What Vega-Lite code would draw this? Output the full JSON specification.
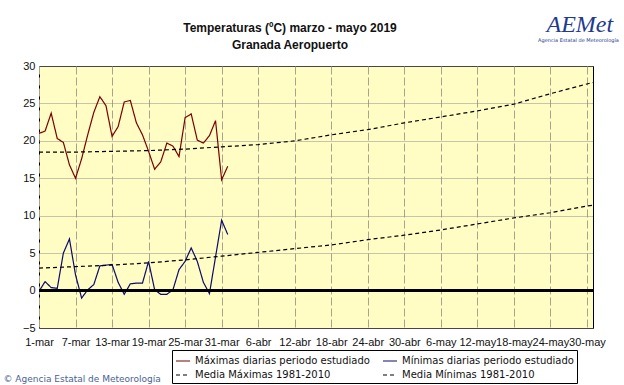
{
  "$schema": "https://vega.github.io/schema/vega-lite/v6.json",
  "width": 554,
  "height": 262,
  "autosize": "none",
  "padding": {"left": 39, "top": 66, "right": 31, "bottom": 57},
  "background": "white",
  "title": {
    "text": ["Temperaturas (ºC) marzo - mayo 2019", "Granada Aeropuerto"],
    "font": "Liberation Sans",
    "fontSize": 12,
    "fontWeight": "bold",
    "color": "#111111",
    "anchor": "middle",
    "lineHeight": 17,
    "offset": 0,
    "dx": -26,
    "dy": 40
  },
  "config": {
    "view": {"fill": "#FFFDC4", "stroke": "black", "strokeWidth": 1},
    "axis": {"labelFont": "Liberation Sans", "labelColor": "#111111", "domain": false, "ticks": false}
  },
  "data": {
    "values": [
      {"fecha": "2019-03-01", "serie": "Máximas diarias periodo estudiado", "valor": 21.0},
      {"fecha": "2019-03-02", "serie": "Máximas diarias periodo estudiado", "valor": 21.3},
      {"fecha": "2019-03-03", "serie": "Máximas diarias periodo estudiado", "valor": 23.7},
      {"fecha": "2019-03-04", "serie": "Máximas diarias periodo estudiado", "valor": 20.3},
      {"fecha": "2019-03-05", "serie": "Máximas diarias periodo estudiado", "valor": 19.8},
      {"fecha": "2019-03-06", "serie": "Máximas diarias periodo estudiado", "valor": 16.8},
      {"fecha": "2019-03-07", "serie": "Máximas diarias periodo estudiado", "valor": 15.0},
      {"fecha": "2019-03-08", "serie": "Máximas diarias periodo estudiado", "valor": 17.6},
      {"fecha": "2019-03-09", "serie": "Máximas diarias periodo estudiado", "valor": 20.8},
      {"fecha": "2019-03-10", "serie": "Máximas diarias periodo estudiado", "valor": 23.8},
      {"fecha": "2019-03-11", "serie": "Máximas diarias periodo estudiado", "valor": 25.9},
      {"fecha": "2019-03-12", "serie": "Máximas diarias periodo estudiado", "valor": 24.7},
      {"fecha": "2019-03-13", "serie": "Máximas diarias periodo estudiado", "valor": 20.6},
      {"fecha": "2019-03-14", "serie": "Máximas diarias periodo estudiado", "valor": 21.9},
      {"fecha": "2019-03-15", "serie": "Máximas diarias periodo estudiado", "valor": 25.2},
      {"fecha": "2019-03-16", "serie": "Máximas diarias periodo estudiado", "valor": 25.4},
      {"fecha": "2019-03-17", "serie": "Máximas diarias periodo estudiado", "valor": 22.4},
      {"fecha": "2019-03-18", "serie": "Máximas diarias periodo estudiado", "valor": 20.8},
      {"fecha": "2019-03-19", "serie": "Máximas diarias periodo estudiado", "valor": 18.6},
      {"fecha": "2019-03-20", "serie": "Máximas diarias periodo estudiado", "valor": 16.2},
      {"fecha": "2019-03-21", "serie": "Máximas diarias periodo estudiado", "valor": 17.2},
      {"fecha": "2019-03-22", "serie": "Máximas diarias periodo estudiado", "valor": 19.7},
      {"fecha": "2019-03-23", "serie": "Máximas diarias periodo estudiado", "valor": 19.3},
      {"fecha": "2019-03-24", "serie": "Máximas diarias periodo estudiado", "valor": 17.9},
      {"fecha": "2019-03-25", "serie": "Máximas diarias periodo estudiado", "valor": 23.1},
      {"fecha": "2019-03-26", "serie": "Máximas diarias periodo estudiado", "valor": 23.6},
      {"fecha": "2019-03-27", "serie": "Máximas diarias periodo estudiado", "valor": 20.1},
      {"fecha": "2019-03-28", "serie": "Máximas diarias periodo estudiado", "valor": 19.7},
      {"fecha": "2019-03-29", "serie": "Máximas diarias periodo estudiado", "valor": 20.7},
      {"fecha": "2019-03-30", "serie": "Máximas diarias periodo estudiado", "valor": 22.7},
      {"fecha": "2019-03-31", "serie": "Máximas diarias periodo estudiado", "valor": 14.8},
      {"fecha": "2019-04-01", "serie": "Máximas diarias periodo estudiado", "valor": 16.6},
      {"fecha": "2019-03-01", "serie": "Mínimas diarias periodo estudiado", "valor": -0.1},
      {"fecha": "2019-03-02", "serie": "Mínimas diarias periodo estudiado", "valor": 1.2},
      {"fecha": "2019-03-03", "serie": "Mínimas diarias periodo estudiado", "valor": 0.4},
      {"fecha": "2019-03-04", "serie": "Mínimas diarias periodo estudiado", "valor": 0.3},
      {"fecha": "2019-03-05", "serie": "Mínimas diarias periodo estudiado", "valor": 5.0},
      {"fecha": "2019-03-06", "serie": "Mínimas diarias periodo estudiado", "valor": 6.9},
      {"fecha": "2019-03-07", "serie": "Mínimas diarias periodo estudiado", "valor": 2.1},
      {"fecha": "2019-03-08", "serie": "Mínimas diarias periodo estudiado", "valor": -1.0},
      {"fecha": "2019-03-09", "serie": "Mínimas diarias periodo estudiado", "valor": 0.1},
      {"fecha": "2019-03-10", "serie": "Mínimas diarias periodo estudiado", "valor": 0.8},
      {"fecha": "2019-03-11", "serie": "Mínimas diarias periodo estudiado", "valor": 3.3},
      {"fecha": "2019-03-12", "serie": "Mínimas diarias periodo estudiado", "valor": 3.4},
      {"fecha": "2019-03-13", "serie": "Mínimas diarias periodo estudiado", "valor": 3.5},
      {"fecha": "2019-03-14", "serie": "Mínimas diarias periodo estudiado", "valor": 1.1},
      {"fecha": "2019-03-15", "serie": "Mínimas diarias periodo estudiado", "valor": -0.5},
      {"fecha": "2019-03-16", "serie": "Mínimas diarias periodo estudiado", "valor": 0.9},
      {"fecha": "2019-03-17", "serie": "Mínimas diarias periodo estudiado", "valor": 1.0},
      {"fecha": "2019-03-18", "serie": "Mínimas diarias periodo estudiado", "valor": 1.0},
      {"fecha": "2019-03-19", "serie": "Mínimas diarias periodo estudiado", "valor": 3.9},
      {"fecha": "2019-03-20", "serie": "Mínimas diarias periodo estudiado", "valor": 0.1},
      {"fecha": "2019-03-21", "serie": "Mínimas diarias periodo estudiado", "valor": -0.5},
      {"fecha": "2019-03-22", "serie": "Mínimas diarias periodo estudiado", "valor": -0.5},
      {"fecha": "2019-03-23", "serie": "Mínimas diarias periodo estudiado", "valor": 0.1},
      {"fecha": "2019-03-24", "serie": "Mínimas diarias periodo estudiado", "valor": 2.8},
      {"fecha": "2019-03-25", "serie": "Mínimas diarias periodo estudiado", "valor": 3.9},
      {"fecha": "2019-03-26", "serie": "Mínimas diarias periodo estudiado", "valor": 5.7},
      {"fecha": "2019-03-27", "serie": "Mínimas diarias periodo estudiado", "valor": 3.9},
      {"fecha": "2019-03-28", "serie": "Mínimas diarias periodo estudiado", "valor": 1.1},
      {"fecha": "2019-03-29", "serie": "Mínimas diarias periodo estudiado", "valor": -0.4},
      {"fecha": "2019-03-30", "serie": "Mínimas diarias periodo estudiado", "valor": 4.5},
      {"fecha": "2019-03-31", "serie": "Mínimas diarias periodo estudiado", "valor": 9.4},
      {"fecha": "2019-04-01", "serie": "Mínimas diarias periodo estudiado", "valor": 7.5},
      {"fecha": "2019-03-01", "serie": "Media Máximas 1981-2010", "valor": 18.5},
      {"fecha": "2019-03-07", "serie": "Media Máximas 1981-2010", "valor": 18.5},
      {"fecha": "2019-03-13", "serie": "Media Máximas 1981-2010", "valor": 18.6},
      {"fecha": "2019-03-19", "serie": "Media Máximas 1981-2010", "valor": 18.7},
      {"fecha": "2019-03-25", "serie": "Media Máximas 1981-2010", "valor": 18.9},
      {"fecha": "2019-03-31", "serie": "Media Máximas 1981-2010", "valor": 19.2},
      {"fecha": "2019-04-06", "serie": "Media Máximas 1981-2010", "valor": 19.5},
      {"fecha": "2019-04-12", "serie": "Media Máximas 1981-2010", "valor": 20.0},
      {"fecha": "2019-04-18", "serie": "Media Máximas 1981-2010", "valor": 20.8},
      {"fecha": "2019-04-24", "serie": "Media Máximas 1981-2010", "valor": 21.5},
      {"fecha": "2019-04-30", "serie": "Media Máximas 1981-2010", "valor": 22.4},
      {"fecha": "2019-05-06", "serie": "Media Máximas 1981-2010", "valor": 23.2},
      {"fecha": "2019-05-12", "serie": "Media Máximas 1981-2010", "valor": 24.0},
      {"fecha": "2019-05-18", "serie": "Media Máximas 1981-2010", "valor": 24.9},
      {"fecha": "2019-05-24", "serie": "Media Máximas 1981-2010", "valor": 26.3},
      {"fecha": "2019-05-30", "serie": "Media Máximas 1981-2010", "valor": 27.6},
      {"fecha": "2019-05-31", "serie": "Media Máximas 1981-2010", "valor": 27.8},
      {"fecha": "2019-03-01", "serie": "Media Mínimas 1981-2010", "valor": 3.0},
      {"fecha": "2019-03-07", "serie": "Media Mínimas 1981-2010", "valor": 3.2},
      {"fecha": "2019-03-13", "serie": "Media Mínimas 1981-2010", "valor": 3.4},
      {"fecha": "2019-03-19", "serie": "Media Mínimas 1981-2010", "valor": 3.7},
      {"fecha": "2019-03-25", "serie": "Media Mínimas 1981-2010", "valor": 4.1},
      {"fecha": "2019-03-31", "serie": "Media Mínimas 1981-2010", "valor": 4.6},
      {"fecha": "2019-04-06", "serie": "Media Mínimas 1981-2010", "valor": 5.1},
      {"fecha": "2019-04-12", "serie": "Media Mínimas 1981-2010", "valor": 5.6},
      {"fecha": "2019-04-18", "serie": "Media Mínimas 1981-2010", "valor": 6.1},
      {"fecha": "2019-04-24", "serie": "Media Mínimas 1981-2010", "valor": 6.8},
      {"fecha": "2019-04-30", "serie": "Media Mínimas 1981-2010", "valor": 7.4},
      {"fecha": "2019-05-06", "serie": "Media Mínimas 1981-2010", "valor": 8.1},
      {"fecha": "2019-05-12", "serie": "Media Mínimas 1981-2010", "valor": 8.9},
      {"fecha": "2019-05-18", "serie": "Media Mínimas 1981-2010", "valor": 9.7},
      {"fecha": "2019-05-24", "serie": "Media Mínimas 1981-2010", "valor": 10.4},
      {"fecha": "2019-05-30", "serie": "Media Mínimas 1981-2010", "valor": 11.3},
      {"fecha": "2019-05-31", "serie": "Media Mínimas 1981-2010", "valor": 11.4}
    ]
  },
  "layer": [
    {
      "mark": {"type": "line", "strokeWidth": 1.2, "clip": true},
      "encoding": {
        "x": {
          "field": "fecha",
          "type": "temporal",
          "scale": {
            "type": "utc",
            "domain": [
              {"year": 2019, "month": 3, "date": 1, "utc": true},
              {"year": 2019, "month": 5, "date": 31, "utc": true}
            ]
          },
          "axis": {
            "values": [
              {"year": 2019, "month": 3, "date": 1, "utc": true},
              {"year": 2019, "month": 3, "date": 7, "utc": true},
              {"year": 2019, "month": 3, "date": 13, "utc": true},
              {"year": 2019, "month": 3, "date": 19, "utc": true},
              {"year": 2019, "month": 3, "date": 25, "utc": true},
              {"year": 2019, "month": 3, "date": 31, "utc": true},
              {"year": 2019, "month": 4, "date": 6, "utc": true},
              {"year": 2019, "month": 4, "date": 12, "utc": true},
              {"year": 2019, "month": 4, "date": 18, "utc": true},
              {"year": 2019, "month": 4, "date": 24, "utc": true},
              {"year": 2019, "month": 4, "date": 30, "utc": true},
              {"year": 2019, "month": 5, "date": 6, "utc": true},
              {"year": 2019, "month": 5, "date": 12, "utc": true},
              {"year": 2019, "month": 5, "date": 18, "utc": true},
              {"year": 2019, "month": 5, "date": 24, "utc": true},
              {"year": 2019, "month": 5, "date": 30, "utc": true}
            ],
            "labelExpr": "utcFormat(datum.value, '%-d') + '-' + ['ene','feb','mar','abr','may','jun'][utcmonth(datum.value)]",
            "labelFontSize": 11,
            "labelPadding": 8,
            "labelOverlap": false,
            "labelFlush": false,
            "grid": true,
            "gridColor": "#a8a48c",
            "gridDash": [8, 3],
            "gridWidth": 1,
            "title": "© Agencia Estatal de Meteorología",
            "titleX": -36,
            "titleY": 53,
            "titleAlign": "left",
            "titleBaseline": "alphabetic",
            "titleFont": "DejaVu Sans",
            "titleFontSize": 9,
            "titleFontWeight": "normal",
            "titleColor": "#4a5f93"
          }
        },
        "y": {
          "field": "valor",
          "type": "quantitative",
          "scale": {"domain": [-5, 30], "nice": false, "zero": false},
          "axis": {
            "values": [-5, 0, 5, 10, 15, 20, 25, 30],
            "labelFontSize": 11,
            "labelPadding": 4,
            "grid": true,
            "gridColor": "#8c8c8c",
            "gridDash": [1, 1],
            "gridWidth": 1,
            "title": "AEMet",
            "titleAngle": 0,
            "titleX": 507,
            "titleY": -35,
            "titleAlign": "left",
            "titleBaseline": "alphabetic",
            "titleFont": "Liberation Serif",
            "titleFontStyle": "italic",
            "titleFontWeight": "normal",
            "titleFontSize": 24,
            "titleColor": "#1f3a8f"
          }
        },
        "color": {
          "field": "serie",
          "type": "nominal",
          "scale": {
            "domain": ["Máximas diarias periodo estudiado", "Mínimas diarias periodo estudiado", "Media Máximas 1981-2010", "Media Mínimas 1981-2010"],
            "range": ["#7a0000", "#0a0a70", "#000000", "#000000"]
          },
          "legend": {
            "title": null,
            "orient": "none",
            "legendX": 133,
            "legendY": 284,
            "columns": 2,
            "direction": "horizontal",
            "strokeColor": "black",
            "fillColor": "white",
            "padding": 3,
            "columnPadding": 10,
            "rowPadding": 1,
            "symbolType": "stroke",
            "symbolSize": 196,
            "symbolStrokeWidth": 1.2,
            "labelOffset": 4,
            "labelFont": "DejaVu Sans",
            "labelFontSize": 10,
            "labelColor": "#111111",
            "labelLimit": 300
          }
        },
        "strokeDash": {
          "field": "serie",
          "type": "nominal",
          "scale": {
            "domain": ["Máximas diarias periodo estudiado", "Mínimas diarias periodo estudiado", "Media Máximas 1981-2010", "Media Mínimas 1981-2010"],
            "range": [[1, 0], [1, 0], [4, 3], [4, 3]]
          },
          "legend": null
        }
      }
    },
    {
      "mark": {"type": "rule", "color": "black", "strokeWidth": 1.6},
      "encoding": {
        "y": {
          "datum": 0,
          "type": "quantitative",
          "scale": {"domain": [-5, 30], "nice": false, "zero": false},
          "axis": {
            "orient": "right",
            "labels": false,
            "ticks": false,
            "grid": false,
            "domain": false,
            "title": "Agencia Estatal de Meteorología",
            "titleAngle": 0,
            "titleX": -15,
            "titleY": -27,
            "titleAlign": "center",
            "titleBaseline": "middle",
            "titleFont": "DejaVu Sans",
            "titleFontSize": 5,
            "titleFontWeight": "normal",
            "titleColor": "#1f3a8f"
          }
        }
      }
    }
  ],
  "resolve": {"scale": {"y": "independent"}}
}
